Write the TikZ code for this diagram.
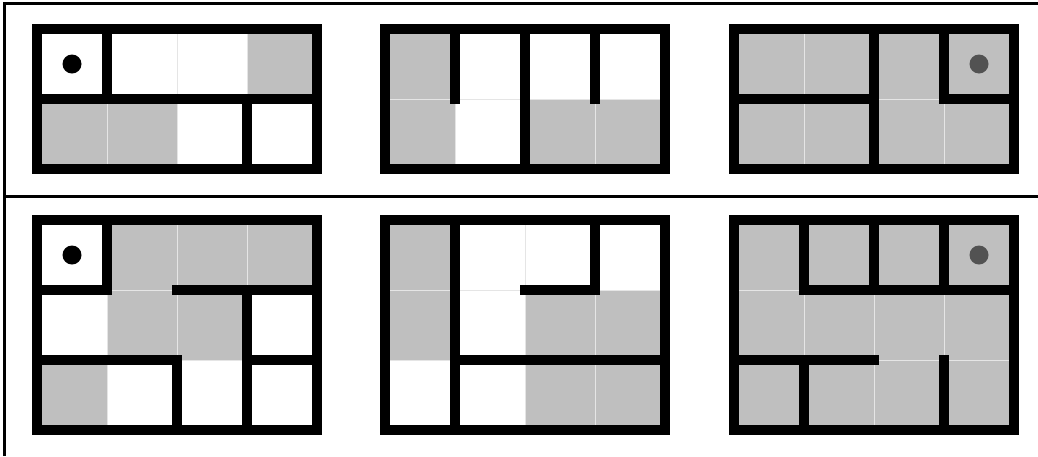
\documentclass[tikz,border=0pt]{standalone}
\usepackage{tikz}
\begin{document}
\begin{tikzpicture}[
  x=1pt, y=-1pt,
  frame/.style={line width=2.6pt},
  cell/.style={draw=black!10, line width=0.8pt},
  visited/.style={cell, fill=lightgray},
  wall/.style={line width=10pt, line cap=rect},
  agent/.style={fill=black},
  target/.style={fill=black!68}
]
\useasboundingbox (0,0) rectangle (1038,456);
\draw[frame] (4.3,456) -- (4.3,3.3) -- (1038,3.3);
\draw[frame] (4.3,196.5) -- (1038,196.5);

% first row
\begin{scope}[shift={(37,29)}, x=70pt, y=-70pt]
  \foreach \i in {0,...,3} \foreach \j in {0,1} \draw[cell] (\i,\j) rectangle ++(1,1);
  \foreach \i/\j in {3/0, 0/1, 1/1} \draw[visited] (\i,\j) rectangle ++(1,1);
  \draw[wall] (0,0) rectangle (4,2);
  \draw[wall] (1,0) -- (1,1) (0,1) -- (4,1) (3,1) -- (3,2);
  \fill[agent] (0.5,0.5) circle[radius=9.5pt];
\end{scope}
\begin{scope}[shift={(385,29)}, x=70pt, y=-70pt]
  \foreach \i in {0,...,3} \foreach \j in {0,1} \draw[cell] (\i,\j) rectangle ++(1,1);
  \foreach \i/\j in {0/0, 0/1, 2/1, 3/1} \draw[visited] (\i,\j) rectangle ++(1,1);
  \draw[wall] (0,0) rectangle (4,2);
  \draw[wall] (1,0) -- (1,1) (2,0) -- (2,2) (3,0) -- (3,1);
\end{scope}
\begin{scope}[shift={(734,29)}, x=70pt, y=-70pt]
  \foreach \i in {0,...,3} \foreach \j in {0,1} \draw[visited] (\i,\j) rectangle ++(1,1);
  \draw[wall] (0,0) rectangle (4,2);
  \draw[wall] (0,1) -- (2,1) (2,0) -- (2,2) (3,0) -- (3,1) -- (4,1);
  \fill[target] (3.5,0.5) circle[radius=9.5pt];
\end{scope}

% second row
\begin{scope}[shift={(37,220)}, x=70pt, y=-70pt]
  \foreach \i in {0,...,3} \foreach \j in {0,1,2} \draw[cell] (\i,\j) rectangle ++(1,1);
  \foreach \i/\j in {1/0, 2/0, 3/0, 1/1, 2/1, 0/2} \draw[visited] (\i,\j) rectangle ++(1,1);
  \draw[wall] (0,0) rectangle (4,3);
  \draw[wall] (1,0) -- (1,1) -- (0,1) (2,1) -- (4,1) (3,1) -- (3,3)
    (0,2) -- (2,2) -- (2,3) (3,2) -- (4,2);
  \fill[agent] (0.5,0.5) circle[radius=9.5pt];
\end{scope}
\begin{scope}[shift={(385,220)}, x=70pt, y=-70pt]
  \foreach \i in {0,...,3} \foreach \j in {0,1,2} \draw[cell] (\i,\j) rectangle ++(1,1);
  \foreach \i/\j in {0/0, 0/1, 2/1, 3/1, 2/2, 3/2} \draw[visited] (\i,\j) rectangle ++(1,1);
  \draw[wall] (0,0) rectangle (4,3);
  \draw[wall] (1,0) -- (1,3) (2,1) -- (3,1) -- (3,0) (1,2) -- (4,2);
\end{scope}
\begin{scope}[shift={(734,220)}, x=70pt, y=-70pt]
  \foreach \i in {0,...,3} \foreach \j in {0,1,2} \draw[visited] (\i,\j) rectangle ++(1,1);
  \draw[wall] (0,0) rectangle (4,3);
  \draw[wall] (1,0) -- (1,1) -- (4,1) (2,0) -- (2,1) (3,0) -- (3,1)
    (0,2) -- (2,2) (1,2) -- (1,3) (3,2) -- (3,3);
  \fill[target] (3.5,0.5) circle[radius=9.5pt];
\end{scope}
\end{tikzpicture}
\end{document}
